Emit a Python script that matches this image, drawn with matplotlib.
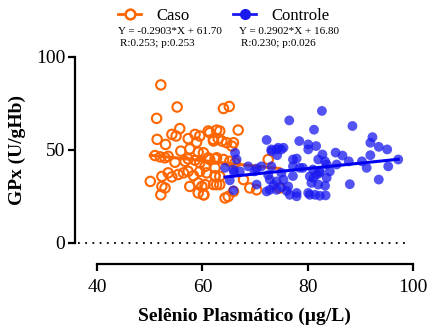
import matplotlib
matplotlib.use("Agg")
import matplotlib.pyplot as plt
from matplotlib.lines import Line2D
import numpy as np

plt.rcParams['font.family'] = ['Liberation Serif', 'DejaVu Serif']

# Caso (open orange circles)
caso_x = [52.1, 55.2, 51.3, 51.4, 53.0, 54.2, 55.0, 55.7, 57.3, 58.6, 59.5, 58.9,
          61.1, 62.7, 62.1, 63.0, 51.0, 52.0, 52.9, 53.5, 55.9, 57.6, 59.2, 54.8,
          56.7, 57.3, 58.6, 59.5, 61.1, 62.4, 50.1, 52.3, 53.5, 54.2, 55.4, 56.4,
          57.3, 58.3, 59.5, 60.8, 62.4, 52.3, 52.9, 52.1, 57.6, 59.2, 59.9, 59.2,
          60.3, 62.7, 63.3, 64.0, 65.1, 66.8, 63.3, 61.4, 62.1, 63.7, 64.6, 65.6,
          65.9, 60.2, 61.4, 62.7, 64.0, 60.5, 62.4, 65.2, 66.2, 72.5, 62.4, 62.1,
          60.5, 63.3, 67.8, 60.2, 64.3, 64.9, 65.9, 69.0, 70.3, 74.7]
caso_y = [85.0, 73.1, 67.0, 55.7, 53.0, 58.4, 57.5, 61.5, 56.1, 58.4, 57.5, 54.2,
          60.2, 60.7, 55.7, 56.1, 47.0, 46.3, 45.8, 46.6, 49.4, 50.6, 48.8, 43.4,
          43.9, 45.2, 44.5, 43.1, 45.8, 45.2, 33.1, 35.8, 37.7, 35.5, 36.8, 37.7,
          38.5, 36.2, 38.5, 37.7, 36.2, 30.4, 29.6, 25.9, 30.4, 32.3, 30.4, 26.9,
          25.9, 31.4, 35.8, 72.3, 73.4, 60.7, 60.2, 59.3, 54.8, 54.8, 53.9, 52.1,
          53.9, 48.5, 44.9, 45.8, 44.9, 41.2, 40.4, 43.9, 43.1, 44.9, 35.8, 31.4,
          31.4, 31.4, 34.1, 25.9, 24.2, 25.0, 27.7, 29.6, 28.6, 29.6]

# Controle (filled blue circles)
ctrl_x = [82.7, 76.5, 88.5, 81.2, 92.3, 91.9, 72.2, 78.4, 80.1, 81.6, 73.1, 74.4,
          75.4, 80.1, 93.5, 95.1, 74.2, 85.3, 86.6, 82.8, 82.0, 83.3, 77.9, 77.2,
          91.9, 87.8, 90.3, 95.3, 91.2, 97.2, 85.5, 88.0, 93.5, 83.3, 76.3, 77.9,
          76.6, 77.9, 80.4, 81.4, 82.3, 83.4, 72.2, 72.8, 74.1, 65.9, 70.3, 65.2,
          66.2, 66.5, 64.3, 65.9, 67.1, 68.7, 69.9, 71.2, 73.1, 75.0, 75.4, 72.8,
          74.1, 77.2, 79.1, 81.0, 82.3, 80.4, 81.7, 80.7, 83.6, 78.5, 84.2, 82.3,
          83.6, 81.1, 82.0, 80.1, 74.1, 73.1, 75.0, 70.3, 72.5, 73.5, 75.0, 76.0,
          77.2, 66.0]
ctrl_y = [71.0, 65.9, 62.9, 60.9, 56.9, 53.9, 55.4, 54.8, 53.0, 52.1, 50.3, 51.2,
          51.2, 50.3, 51.7, 50.3, 47.2, 48.6, 47.0, 47.6, 44.9, 43.9, 45.4, 44.9,
          47.2, 43.9, 43.9, 41.2, 40.4, 44.9, 42.2, 31.6, 34.1, 30.8, 30.4, 26.9,
          25.9, 25.1, 25.9, 25.9, 25.4, 25.6, 27.7, 28.6, 28.6, 28.3, 31.4, 33.7,
          48.5, 44.9, 40.4, 39.5, 38.5, 41.2, 38.5, 41.2, 41.2, 37.7, 34.1, 34.1,
          33.1, 41.2, 40.4, 39.5, 38.5, 35.8, 36.8, 32.3, 42.2, 40.4, 38.5, 37.7,
          35.0, 35.0, 31.4, 26.9, 50.3, 49.4, 50.3, 40.0, 36.5, 31.0, 30.0, 28.0,
          36.0, 38.0]

# regression lines from the equations in the legend
caso_slope, caso_icpt = -0.2903, 61.70
ctrl_slope, ctrl_icpt = 0.2902, 16.80

orange = '#FF6600'
blue = '#1A1AF0'

fig = plt.figure(figsize=(4.32, 3.33), dpi=100)
ax = fig.add_axes([0.1736, 0.2703, 0.7824, 0.5586])

ax.scatter(caso_x, caso_y, s=46, facecolors='none', edgecolors=orange,
           linewidths=1.5, zorder=2)
cx = np.array([min(caso_x), max(caso_x)])
ax.plot(cx, caso_slope * cx + caso_icpt, color=orange, lw=2.2, zorder=2)

ax.scatter(ctrl_x, ctrl_y, s=50, color=blue, alpha=0.75, edgecolors='none', zorder=3)
bx = np.array([min(ctrl_x), max(ctrl_x)])
ax.plot(bx, ctrl_slope * bx + ctrl_icpt, color='#0000EE', lw=2.2, zorder=4)

# dotted zero line
ax.axhline(0, xmin=0.01, xmax=0.98, color='black', ls=(0, (1, 3)), lw=1.3, clip_on=False)

ax.set_xlim(35.8, 100)
ax.set_ylim(0, 100)
ax.set_xticks([40, 60, 80, 100])
ax.set_yticks([0, 50, 100])

for s in ['top', 'right']:
    ax.spines[s].set_visible(False)
ax.spines['left'].set_linewidth(1.6)
ax.spines['bottom'].set_linewidth(1.6)
ax.spines['bottom'].set_position(('outward', 15))
ax.spines['bottom'].set_bounds(40, 100)
ax.tick_params(width=1.6, length=5, labelsize=14, pad=2)
ax.tick_params(axis='x', pad=6)

ax.set_ylabel('GPx (U/gHb)', fontsize=14, fontweight='bold', labelpad=7)
ax.set_xlabel('Selênio Plasmático (µg/L)', fontsize=14, fontweight='bold', labelpad=8)

handles = [Line2D([], [], color=orange, lw=2, marker='o', markersize=7,
                  markerfacecolor='white', markeredgewidth=1.8),
           Line2D([], [], color=blue, lw=2, marker='o', markersize=7)]
fig.legend(handles, ['Caso', 'Controle'], loc='center', ncol=2, frameon=False,
           bbox_to_anchor=(0.518, 0.952), fontsize=12, columnspacing=2.6,
           handlelength=1.4, handletextpad=0.9)

fig.text(0.273, 0.905, 'Y = -0.2903*X + 61.70', fontsize=8, va='center')
fig.text(0.278, 0.869, 'R:0.253; p:0.253', fontsize=8, va='center')
fig.text(0.553, 0.905, 'Y = 0.2902*X + 16.80', fontsize=8, va='center')
fig.text(0.558, 0.869, 'R:0.230; p:0.026', fontsize=8, va='center')

fig.savefig('out.png', dpi=100)
